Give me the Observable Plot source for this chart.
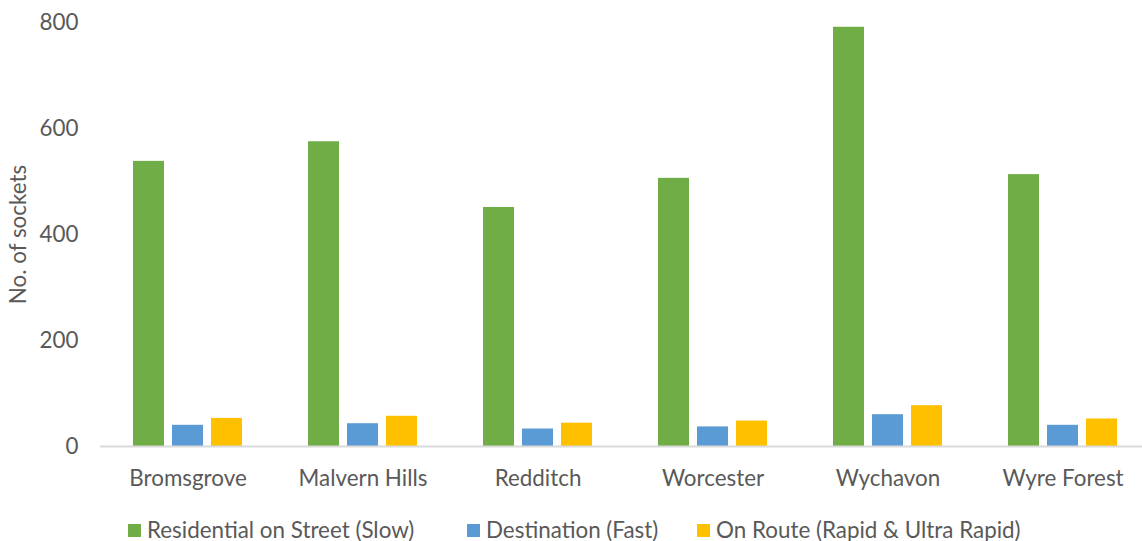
<!DOCTYPE html>
<html>
<head>
<meta charset="utf-8">
<script src="https://cdn.jsdelivr.net/npm/d3@7"></script>
<script src="https://cdn.jsdelivr.net/npm/@observablehq/plot@0.6"></script>
<style>
  body { margin: 0; background: #fff; width: 1142px; height: 541px; overflow: hidden; font-family: Lato, "Open Sans", sans-serif; color: #595959; }
  #legend { position: relative; height: 36px; font-size: 22.4px; }
  .item { position: absolute; top: 14px; display: flex; align-items: center; line-height: 22px; white-space: nowrap; }
  .sw { width: 13px; height: 13px; margin-right: 6px; display: inline-block; }
</style>
</head>
<body>
<div id="chart"></div>
<div id="legend"></div>
<script>
const districts = ["Bromsgrove", "Malvern Hills", "Redditch", "Worcester", "Wychavon", "Wyre Forest"];
const series = ["Residential on Street (Slow)", "Destination (Fast)", "On Route (Rapid & Ultra Rapid)"];
const slow = [538, 575, 451, 506, 791, 513];
const fast = [40, 43, 33, 37, 60, 40];
const route = [53, 57, 44, 48, 77, 52];
const yTicks = [0, 200, 400, 600, 800];
const colors = ["#70AD47", "#5B9BD5", "#FFC000"];

const valuesBySeries = [slow, fast, route];
const data = districts.flatMap((d, i) =>
  series.map((s, j) => ({district: d, series: s, value: valuesBySeries[j][i]}))
);

const chart = Plot.plot({
  width: 1142,
  height: 505,
  marginLeft: 100,
  marginRight: -8,
  marginTop: 22,
  marginBottom: 59,
  style: {fontFamily: "Lato, 'Open Sans', sans-serif", fontSize: "22.4px", color: "#595959", background: "white", overflow: "visible"},
  fx: {domain: districts, padding: 0, label: null, tickSize: 0, tickPadding: 24, axis: "bottom"},
  x: {domain: series, axis: null, paddingInner: 0.2, paddingOuter: 0.8},
  y: {domain: [0, 800], ticks: yTicks, tickSize: 0, tickPadding: 22, label: "No. of sockets", labelAnchor: "center", labelArrow: "none", labelOffset: 90},
  color: {domain: series, range: colors},
  marks: [
    Plot.barY(data, {fx: "district", x: "series", y: "value", fill: "series"}),
    Plot.ruleY([0], {stroke: "#d9d9d9", strokeWidth: 2})
  ]
});
document.getElementById("chart").appendChild(chart);

const legendLeft = [128, 467, 697];
const legend = document.getElementById("legend");
series.forEach((s, i) => {
  const it = document.createElement("div");
  it.className = "item";
  it.style.left = legendLeft[i] + "px";
  it.innerHTML = `<span class="sw" style="background:${colors[i]}"></span><span>${s}</span>`;
  legend.appendChild(it);
});
</script>
</body>
</html>
